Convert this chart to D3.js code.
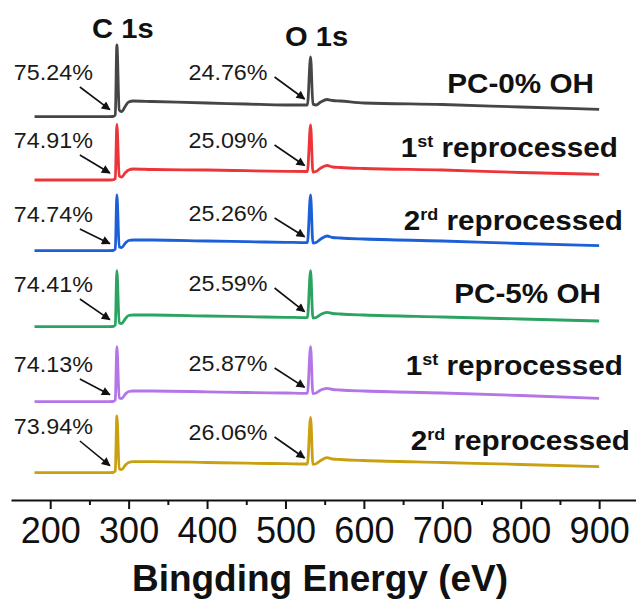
<!DOCTYPE html>
<html>
<head>
<meta charset="utf-8">
<script src="https://cdn.jsdelivr.net/npm/d3@7"></script>
<style>
  html, body { margin: 0; padding: 0; background: #fff; }
  svg { display: block; font-family: "Liberation Sans", Arial, Helvetica, sans-serif; }
</style>
</head>
<body>
<svg id="chart" width="636" height="604"></svg>
<script>
// XPS survey spectra, stacked with vertical offsets (intensity in a.u.)
const energy = [180, 270, 280, 283, 285, 288, 291, 296, 300, 306, 330, 400, 450, 500, 528,
                532, 535, 539, 545, 553, 560, 570, 600, 700, 800, 900];

const pc0      = [383.3, 383.3, 383.5, 385, 455, 390, 388.3, 394, 398, 399, 398.5, 397, 396, 395, 395,
                  443, 396, 395, 398, 400.5, 399.5, 399, 397, 395.5, 393, 390.7];
const pc0Re1   = [320, 320, 320.2, 321.5, 375.5, 324, 323, 327.5, 330, 331, 330.5, 330, 329.3, 328.7, 328.5,
                  375, 328, 328.5, 332, 334.5, 333, 332.5, 331.5, 330, 327.5, 325.7];
const pc0Re2   = [249.3, 249.3, 249.5, 251, 305, 253, 252.5, 257, 259.5, 260, 260, 259, 258.3, 257.7, 257.3,
                  305, 257, 257.5, 261, 264, 262.5, 262, 261, 259, 256.5, 254.3];
const pc5      = [173.3, 173.3, 173.5, 175, 229.3, 177, 176.5, 181.5, 184.5, 185, 185, 184, 183.3, 182.7, 182.3,
                  229.3, 182, 182.5, 185.5, 187.7, 186.5, 186, 185, 183, 181, 179];
const pc5Re1   = [98.3, 98.3, 98.5, 100, 153.3, 102, 101.5, 106, 108.5, 109, 109, 108.2, 107.5, 107, 106.7,
                  153.3, 106.3, 107, 110, 111.7, 110.5, 110, 109, 107, 104.5, 101.7];
const pc5Re2   = [27.3, 27.3, 27.5, 29, 84, 31, 30.5, 35, 37.5, 38.3, 38.3, 37.5, 36.8, 36.3, 36,
                  82.7, 35.7, 36.3, 39.5, 42.3, 41, 40.5, 39.5, 37.5, 35.5, 33.3];

const seriesValues = [pc0, pc0Re1, pc0Re2, pc5, pc5Re1, pc5Re2];
const seriesColors = ["#464646", "#ec3439", "#1c5fd8", "#2ba462", "#b475e6", "#c9a010"];
const seriesNames = [
  { lead: "PC-0% OH" },
  { lead: "1", sup: "st", tail: " reprocessed" },
  { lead: "2", sup: "rd", tail: " reprocessed" },
  { lead: "PC-5% OH" },
  { lead: "1", sup: "st", tail: " reprocessed" },
  { lead: "2", sup: "rd", tail: " reprocessed" }
];

// Atomic percentages of C 1s and O 1s
const carbonPct = ["75.24%", "74.91%", "74.74%", "74.41%", "74.13%", "73.94%"];
const oxygenPct = ["24.76%", "25.09%", "25.26%", "25.59%", "25.87%", "26.06%"];

const peakC = 285, peakO = 532;
const peakNames = ["C 1s", "O 1s"];
const majorTicks = [200, 300, 400, 500, 600, 700, 800, 900];
const minorTicks = [250, 350, 450, 550, 650, 750, 850];
const xTitle = "Bingding Energy (eV)";

// Label placement (pixels)
const cLabelLift = [36.7, 32, 28.7, 34.7, 29.7, 38.7];
const oLabelLift = [25, 23.5, 21.7, 26.7, 22.3, 24];
const nameRight  = [594, 618, 623, 601, 623, 630];
const nameLift   = [16, 17.6, 15.7, 17.7, 23, 16.7];

const svg = d3.select("#chart");
const axisY = 500;

const x = d3.scaleLinear().domain([150, 947]).range([11, 636]);
const y = d3.scaleLinear().domain([0, 480]).range([axisY, 20]);

const defs = svg.append("defs");
defs.append("marker")
  .attr("id", "head")
  .attr("viewBox", "0 0 10 10")
  .attr("refX", 9).attr("refY", 5)
  .attr("markerWidth", 6.5).attr("markerHeight", 5.5)
  .attr("markerUnits", "strokeWidth")
  .attr("orient", "auto")
  .append("path").attr("d", "M0,0 L10,5 L0,10 z").attr("fill", "#111");

const line = d3.line()
  .x((d, i) => x(energy[i]))
  .y(d => y(d))
  .curve(d3.curveMonotoneX);

const idx528 = energy.indexOf(528);

// Horizontally stretched text
function stretchedText(g, tx, ty, sx) {
  return g.append("text").attr("transform", `translate(${tx},${ty}) scale(${sx},1)`);
}

seriesValues.forEach((vals, s) => {
  svg.append("path")
    .datum(vals)
    .attr("d", line)
    .attr("fill", "none")
    .attr("stroke", seriesColors[s])
    .attr("stroke-width", 2.8)
    .attr("stroke-linejoin", "round");

  const baseC = y(vals[0]);
  const baseO = y(vals[idx528]);
  const g = svg.append("g");

  // C 1s label and arrow
  const cRight = x(peakC) - 24;
  const cBase = baseC - cLabelLift[s];
  stretchedText(g, cRight, cBase, 1.06)
    .attr("text-anchor", "end").attr("font-size", 22).attr("fill", "#1a1a1a")
    .text(carbonPct[s]);
  g.append("line")
    .attr("x1", cRight - 13).attr("y1", cBase + 7)
    .attr("x2", x(peakC) - 7).attr("y2", baseC - 7)
    .attr("stroke", "#111").attr("stroke-width", 1.6)
    .attr("marker-end", "url(#head)");

  // O 1s label and arrow
  const oRight = x(peakO) - 43;
  const oBase = baseO - oLabelLift[s];
  stretchedText(g, oRight, oBase, 1.06)
    .attr("text-anchor", "end").attr("font-size", 22).attr("fill", "#1a1a1a")
    .text(oxygenPct[s]);
  g.append("line")
    .attr("x1", oRight + 7).attr("y1", oBase - 3)
    .attr("x2", x(peakO) - 6).attr("y2", baseO - 6)
    .attr("stroke", "#111").attr("stroke-width", 1.6)
    .attr("marker-end", "url(#head)");

  // Sample name
  const nm = seriesNames[s];
  const t = stretchedText(g, nameRight[s], y(vals[vals.length - 1]) - nameLift[s], 1.06)
    .attr("text-anchor", "end").attr("font-size", 28).attr("font-weight", "bold").attr("fill", "#111");
  t.append("tspan").text(nm.lead);
  if (nm.sup) {
    t.append("tspan").attr("font-size", 17).attr("dy", -10).text(nm.sup);
    t.append("tspan").attr("dy", 10).text(nm.tail);
  }
});

// Peak assignments
[peakC, peakO].forEach((p, i) => {
  stretchedText(svg, x(p) + 6, i === 0 ? 38 : 46, 1.04)
    .attr("text-anchor", "middle").attr("font-size", 28).attr("font-weight", "bold").attr("fill", "#111")
    .text(peakNames[i]);
});

// X axis
const gx = svg.append("g").attr("transform", `translate(0,${axisY})`)
  .call(d3.axisBottom(x).tickValues(majorTicks).tickSize(9).tickSizeOuter(0).tickPadding(8));
gx.select(".domain").attr("stroke", "#111").attr("stroke-width", 2.2);
gx.selectAll(".tick line").attr("stroke", "#111").attr("stroke-width", 2);
gx.selectAll(".tick text").attr("font-size", 36).attr("fill", "#111")
  .attr("font-family", "'Liberation Sans', Arial, sans-serif");

const gm = svg.append("g").attr("transform", `translate(0,${axisY})`)
  .call(d3.axisBottom(x).tickValues(minorTicks).tickSize(5).tickSizeOuter(0).tickFormat(""));
gm.select(".domain").remove();
gm.selectAll(".tick line").attr("stroke", "#111").attr("stroke-width", 2);

svg.append("text")
  .attr("x", 320).attr("y", 591)
  .attr("text-anchor", "middle").attr("font-size", 37).attr("font-weight", "bold").attr("fill", "#111")
  .text(xTitle);
</script>
</body>
</html>
